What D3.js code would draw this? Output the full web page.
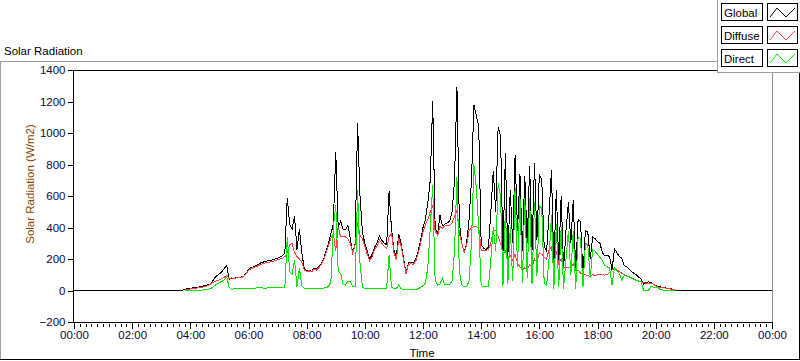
<!DOCTYPE html>
<html><head><meta charset="utf-8">
<script src="https://cdn.jsdelivr.net/npm/d3@7"></script>
<style>
html,body{margin:0;padding:0;background:#fff;}
svg{display:block;font-family:"Liberation Sans",Arial,sans-serif;}
</style></head><body>
<svg id="chart" width="800" height="361"></svg>
<script>
// ---------------- DATA ----------------
const startTime = "03:40";
const stepMinutes = 5;
const partialRange = ["03:50", "20:40"];   // Diffuse / Direct are drawn only in this span
const seriesNames = ["Global", "Diffuse", "Direct"];
const seriesColors = ["#000000", "#ff4040", "#00e600"];
const xTickLabels = ["00:00","02:00","04:00","06:00","08:00","10:00","12:00","14:00","16:00","18:00","20:00","22:00","00:00"];
const yTickValues = [-200, 0, 200, 400, 600, 800, 1000, 1200, 1400];

const globalValues = [
0,3,8,12,14,16,18,20,24,28,30,36,41,55,79,95,105,120,140,160,
70,80,78,82,80,85,90,110,135,145,150,158,165,175,180,185,188,192,195,200,
205,212,220,240,590,420,390,470,260,390,240,140,125,130,122,140,135,150,170,200,
250,300,360,420,880,400,440,390,385,416,330,240,300,1065,600,370,300,250,200,230,
275,300,345,320,300,290,630,390,260,215,360,300,200,115,175,180,175,200,250,320,
400,450,560,700,1200,405,350,480,410,420,430,440,500,700,1295,430,300,240,300,450,
700,1180,1110,1040,290,270,260,275,500,760,500,1040,980,236,870,210,640,300,860,380,
740,250,730,300,790,260,810,320,740,700,280,250,480,765,160,640,170,600,140,380,
560,300,575,130,450,440,100,380,370,200,340,330,310,300,240,220,225,215,130,265,
240,215,205,160,150,135,120,110,100,85,72,40,50,55,52,40,32,27,22,20,
17,14,12,8,3,0,0,0,0
];
const diffuseValues = [
0,2,5,8,10,12,14,16,20,22,25,30,38,47,55,62,68,75,85,95,
75,80,78,80,80,83,88,105,128,138,145,150,158,165,170,175,178,182,185,190,
195,200,205,215,240,290,300,240,215,200,180,130,120,125,118,135,130,145,165,195,
240,285,330,365,250,405,340,345,340,330,300,236,290,437,350,330,280,230,190,215,
260,280,320,300,280,265,340,365,240,194,330,280,190,105,165,170,165,185,235,300,
370,420,450,500,543,380,350,405,395,410,410,415,430,470,510,360,300,240,290,380,
400,405,405,400,257,255,255,260,300,384,380,342,300,236,250,200,220,190,230,175,
150,130,145,135,165,150,200,180,240,230,210,200,260,275,160,250,170,200,140,150,
145,150,170,130,130,110,100,100,95,90,100,95,100,105,100,98,100,115,130,141,
130,120,110,100,92,88,80,72,65,58,56,50,46,45,46,40,30,22,20,18,
15,12,10,6,3,0,0,0,0
];
const directValues = [
0,0,0,0,0,0,0,0,0,2,6,8,10,18,30,42,50,58,67,88,
20,8,10,12,12,13,14,14,14,14,15,15,18,22,15,15,16,16,18,18,
20,20,20,22,342,120,105,194,24,143,30,14,14,14,13,14,14,14,15,15,
18,25,56,400,543,120,110,40,35,60,56,24,24,638,173,20,14,14,14,14,
14,14,14,14,14,14,225,20,14,14,35,10,8,8,8,8,8,8,10,20,
30,46,151,400,670,67,35,40,78,35,35,40,60,250,720,120,35,24,24,60,
300,800,650,400,30,24,24,24,200,400,250,682,600,30,520,40,400,60,650,150,
600,50,590,80,590,40,560,90,540,520,50,30,200,480,10,420,20,400,10,200,
380,100,380,10,340,330,20,300,290,80,260,250,230,210,190,160,150,143,35,143,
125,110,67,95,90,85,78,70,65,60,56,0,0,0,24,22,20,18,5,3,
2,1,0,0,0,0,0,0,0
];

// ---------------- CHART ----------------
const toMin = s => { const [h, m] = s.split(":").map(Number); return h * 60 + m; };
const t0 = toMin(startTime);
const times = globalValues.map((_, i) => t0 + i * stepMinutes);

const svg = d3.select("#chart");
const x = d3.scaleLinear().domain([0, 1440]).range([74, 772]);
const y = d3.scaleLinear().domain([-200, 1400]).range([322, 70]);

// outer panel frame
const frame = svg.append("g").attr("shape-rendering", "crispEdges");
frame.append("line").attr("x1", 0).attr("x2", 717).attr("y1", 61.5).attr("y2", 61.5).attr("stroke", "#a0a0a0");
frame.append("line").attr("x1", 0.5).attr("x2", 0.5).attr("y1", 61).attr("y2", 360).attr("stroke", "#a0a0a0");
frame.append("line").attr("x1", 0).attr("x2", 800).attr("y1", 359.5).attr("y2", 359.5).attr("stroke", "#000");
frame.append("line").attr("x1", 799.5).attr("x2", 799.5).attr("y1", 61).attr("y2", 360).attr("stroke", "#000");

// title
svg.append("text").attr("x", 4).attr("y", 55).attr("font-size", "11.5px").attr("fill", "#000").text("Solar Radiation");

// plot frame
frame.append("line").attr("x1", 73).attr("x2", 772).attr("y1", 70.5).attr("y2", 70.5).attr("stroke", "#000");
frame.append("line").attr("x1", 73.5).attr("x2", 73.5).attr("y1", 70).attr("y2", 323).attr("stroke", "#000");
frame.append("line").attr("x1", 772.5).attr("x2", 772.5).attr("y1", 70).attr("y2", 323).attr("stroke", "#909090");
frame.append("line").attr("x1", 73).attr("x2", 773).attr("y1", 322.5).attr("y2", 322.5).attr("stroke", "#000");

// axes
const xMajor = d3.axisBottom(x).tickValues(d3.range(0, 1441, 120))
  .tickFormat((d, i) => xTickLabels[i]).tickSize(6).tickPadding(2).tickSizeOuter(0);
const xMinor = d3.axisBottom(x).tickValues(d3.range(0, 1441, 12).filter(d => d % 120))
  .tickFormat("").tickSize(3).tickSizeOuter(0);
const gxm = svg.append("g").attr("transform", "translate(0,324)").call(xMinor);
gxm.select(".domain").remove();
const gx = svg.append("g").attr("transform", "translate(0,323)").call(xMajor);
gx.select(".domain").remove();
gx.selectAll("text").attr("font-size", "11.5px").attr("fill", "#0a0a30").attr("font-family", "Liberation Sans, Arial, sans-serif");

const yAx = d3.axisLeft(y).tickValues(yTickValues).tickFormat(d3.format("d"))
  .tickSize(5).tickPadding(2).tickSizeOuter(0);
const gy = svg.append("g").attr("transform", "translate(72.5,0)").call(yAx);
gy.select(".domain").remove();
gy.selectAll("text").attr("font-size", "11.5px").attr("fill", "#0a0a30").attr("font-family", "Liberation Sans, Arial, sans-serif");
svg.selectAll(".tick line").attr("shape-rendering", "crispEdges");

// axis titles
svg.append("text").attr("transform", "translate(34,184) rotate(-90)").attr("text-anchor", "middle")
  .attr("font-size", "11.5px").attr("fill", "#8a4500").text("Solar Radiation (W/m2)");
svg.append("text").attr("x", 422).attr("y", 357).attr("text-anchor", "middle")
  .attr("font-size", "11.5px").attr("fill", "#000").text("Time");

// series
const line = d3.line().x(d => x(d.t)).y(d => y(d.v));
const globalData = [{ t: 0, v: 0 }]
  .concat(times.map((t, i) => ({ t, v: globalValues[i] })))
  .concat([{ t: 1440, v: 0 }]);
const pStart = toMin(partialRange[0]), pEnd = toMin(partialRange[1]);
const partial = vals => times.map((t, i) => ({ t, v: vals[i] })).filter(d => d.t >= pStart && d.t <= pEnd);

const plot = svg.append("g");
[globalData, partial(diffuseValues), partial(directValues)].forEach((data, k) => {
  plot.append("path").datum(data).attr("d", line).attr("fill", "none")
    .attr("stroke", seriesColors[k]).attr("stroke-width", 1)
    .attr("stroke-linejoin", "miter").attr("shape-rendering", "crispEdges");
});

// legend
const lg = svg.append("g").attr("shape-rendering", "crispEdges");
lg.append("rect").attr("x", 717).attr("y", 0).attr("width", 83).attr("height", 72).attr("fill", "#fff");
lg.append("line").attr("x1", 717.5).attr("x2", 717.5).attr("y1", 0).attr("y2", 73).attr("stroke", "#a0a0a0");
lg.append("line").attr("x1", 717).attr("x2", 800).attr("y1", 72.5).attr("y2", 72.5).attr("stroke", "#a0a0a0");
const zig = d3.line();
seriesNames.forEach((name, k) => {
  const top = 3 + k * 23;
  const g = lg.append("g");
  g.append("rect").attr("x", 721.5).attr("y", top + 0.5).attr("width", 41).attr("height", 17)
    .attr("fill", "#fff").attr("stroke", "#000");
  g.append("text").attr("x", 724).attr("y", top + 14).attr("font-size", "11.5px").attr("fill", "#000")
    .attr("shape-rendering", "auto").text(name);
  g.append("rect").attr("x", 767.5).attr("y", top + 0.5).attr("width", 30).attr("height", 17)
    .attr("fill", "#fff").attr("stroke", "#000");
  g.append("path").attr("d", zig([[770, top + 14], [777, top + 5], [786, top + 14], [795, top + 5]]))
    .attr("fill", "none").attr("stroke", seriesColors[k]).attr("shape-rendering", "auto");
});
</script>
</body></html>
